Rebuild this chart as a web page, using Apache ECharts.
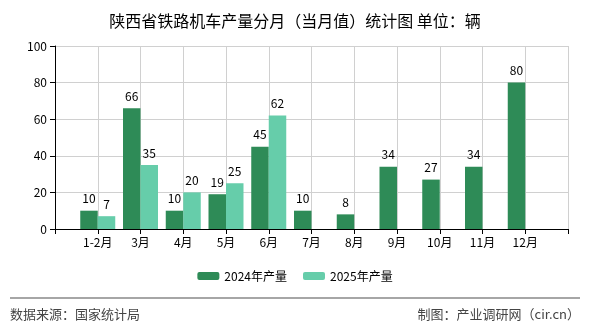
<!DOCTYPE html>
<html><head><meta charset="utf-8">
<script src="https://cdn.jsdelivr.net/npm/echarts@6/dist/echarts.min.js"></script>
<style>html,body{margin:0;padding:0;background:#fff}#c{width:590px;height:330px}</style>
</head><body><div id="c"></div>
<script>
var categories = ['1-2月','3月','4月','5月','6月','7月','8月','9月','10月','11月','12月'];
var series2024 = [10,66,10,19,45,10,8,34,27,34,80];
var series2025 = [7,35,20,25,62,null,null,null,null,null,null];
var seriesNames = ['2024年产量','2025年产量'];
var yTicks = [0,20,40,60,80,100];

var xCats = [''].concat(categories).concat(['']);
function pad(a){return [null].concat(a).concat([null]);}
var font = '"Noto Sans CJK SC", "Liberation Sans", sans-serif';
var chart = echarts.init(document.getElementById('c'));
chart.setOption({
  animation:false,
  title:{text:'陕西省铁路机车产量分月（当月值）统计图 单位：辆',left:'center',top:8,
    textStyle:{fontSize:16,fontWeight:'normal',color:'#000',fontFamily:font}},
  legend:{bottom:43,left:'center',itemWidth:22,itemHeight:8,itemGap:16,
    textStyle:{fontSize:12,color:'#000',fontFamily:font},
    data:seriesNames},
  grid:{left:55,right:22,top:46,bottom:101,containLabel:false},
  xAxis:{type:'category',data:xCats,boundaryGap:false,
    axisLine:{lineStyle:{color:'#000'}},
    axisTick:{show:true,length:5,lineStyle:{color:'#000'}},
    axisLabel:{color:'#000',fontSize:12,fontFamily:font,margin:7,interval:0},
    splitLine:{show:true,lineStyle:{color:'#d0d0d0'}}},
  yAxis:{type:'value',min:yTicks[0],max:yTicks[yTicks.length-1],interval:20,
    axisLine:{show:true,lineStyle:{color:'#000'}},
    axisTick:{show:true,length:5,lineStyle:{color:'#000'}},
    axisLabel:{color:'#000',fontSize:12,fontFamily:font,margin:8},
    splitLine:{lineStyle:{color:'#d0d0d0'}}},
  series:[
    {name:seriesNames[0],type:'bar',data:pad(series2024),barWidth:17.5,barGap:'0%',
      itemStyle:{color:'#2e8b57'},
      label:{show:true,position:'top',color:'#000',fontSize:12,fontFamily:font,distance:6}},
    {name:seriesNames[1],type:'bar',data:pad(series2025),barWidth:17.5,barGap:'0%',
      itemStyle:{color:'#66cdaa'},
      label:{show:true,position:'top',color:'#000',fontSize:12,fontFamily:font,distance:6}}
  ],
  graphic:[
    {type:'line',shape:{x1:10,y1:298,x2:580,y2:298},style:{stroke:'#888',lineWidth:1.5}},
    {type:'text',left:10,top:308,style:{text:'数据来源：国家统计局',fontSize:13,fill:'#444',fontFamily:font}},
    {type:'text',right:10,top:308,style:{text:'制图：产业调研网（cir.cn）',fontSize:13,fill:'#444',fontFamily:font}}
  ]
});
</script></body></html>
